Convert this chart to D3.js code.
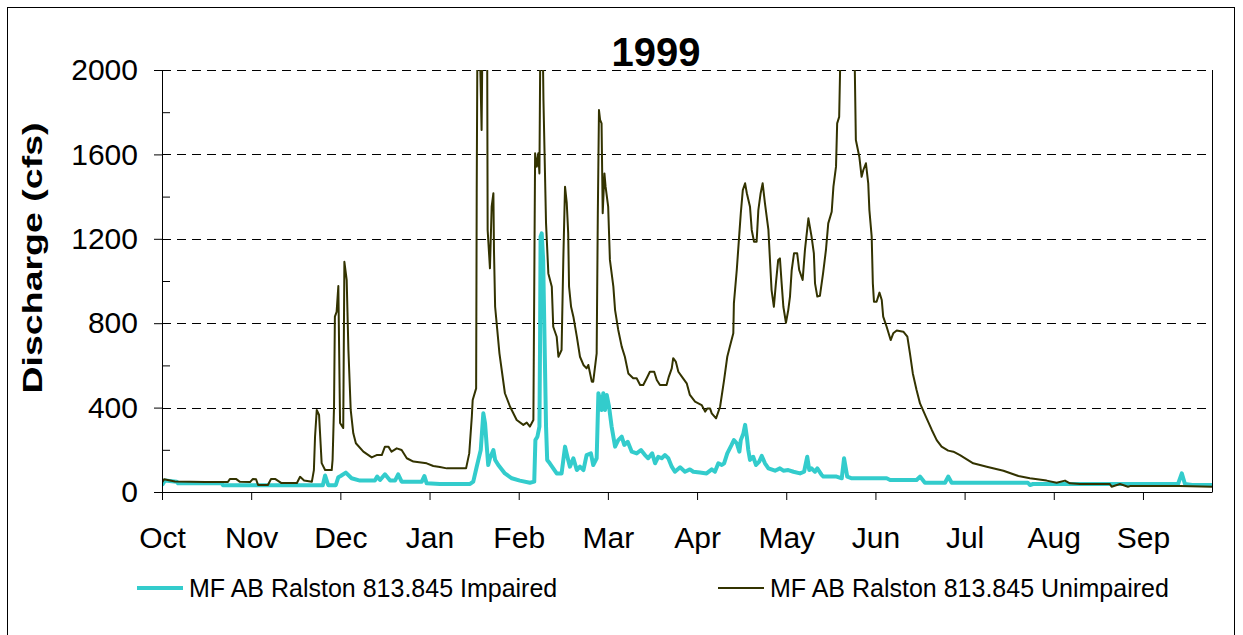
<!DOCTYPE html>
<html><head><meta charset="utf-8">
<script src="https://cdn.jsdelivr.net/npm/d3@7"></script>
<style>
body{margin:0;background:#fff}
svg{display:block}
text{font-family:"Liberation Sans",Arial,sans-serif;fill:#000}
</style>
</head><body>
<svg id="chart" width="1243" height="635"></svg>
<script>
// ---- data (day index from Oct 1, discharge in cfs) ----
const monthLabels = ["Oct","Nov","Dec","Jan","Feb","Mar","Apr","May","Jun","Jul","Aug","Sep"];
const monthTickDays = [0,31,62,93,124,155,186,217,248,279,310,341];
const yTickValues = [0,400,800,1200,1600,2000];
const yMinorTicks = [200,600,1000,1400,1800];
const seriesNames = ["MF AB Ralston 813.845 Impaired","MF AB Ralston 813.845 Unimpaired"];
const chartTitle = "1999";
const yLabel = "Discharge (cfs)";

const impaired = [
[0,33],[1,54],[5.1,49],[5.6,41],[20.8,41],[21.2,32],[55.9,32],[56.7,78],[57.8,32],[60.4,32],[61.3,70],[62.1,76],[63.9,92],[65.9,65],[68.8,54],[74,54],[74.8,73],[75.8,57],[77.5,84],[79.3,54],[81,54],[82.1,84],[83.3,49],[90.3,49],[91.2,76],[92,41],[96.6,38],[107.1,38],[108.2,49],[109.4,120],[110.8,199],[111.7,373],[112.3,325],[112.9,215],[113.4,128],[114,160],[115.2,199],[115.8,152],[116.9,128],[119.2,88],[121.6,65],[124.4,54],[127.9,44],[129.4,49],[129.8,246],[130.5,262],[131.2,310],[131.4,673],[131.6,1210],[132,1226],[132.5,1100],[133.1,626],[133.5,310],[133.9,152],[134.8,136],[136,112],[137.2,88],[138.9,88],[140.1,215],[141.2,152],[141.8,120],[143,160],[144.2,104],[145.3,120],[146.5,104],[147.6,175],[149.1,183],[149.9,128],[151.1,160],[151.7,468],[152.3,436],[152.8,389],[153.4,468],[154,389],[154.6,460],[155.4,404],[156.3,310],[157.5,215],[158.6,246],[159.8,262],[160.7,223],[161.9,238],[163.3,191],[165,183],[166.5,199],[167.9,175],[169,160],[170.4,183],[171.4,136],[172.5,167],[173.7,160],[174.8,175],[176,160],[177.2,120],[178.3,96],[180.1,117],[181.8,96],[183.5,107],[184.7,96],[187,92],[189.3,88],[191.1,107],[192.2,96],[193.4,136],[194.6,128],[195.4,136],[196.5,183],[198,223],[198.8,246],[199.8,231],[200.7,191],[201.2,246],[202.1,278],[202.7,318],[203.3,262],[203.8,199],[204.4,152],[205.5,167],[206.5,128],[207.6,144],[208.5,171],[209.6,136],[210.8,112],[213.1,101],[214.8,112],[216,101],[217.7,104],[219.5,96],[221.8,88],[223.2,96],[224.3,167],[225,104],[225.8,112],[227,96],[227.8,112],[229.3,81],[229.9,73],[234.5,73],[236.3,65],[237.1,160],[238.2,73],[239.8,65],[251.9,65],[253.1,57],[262.3,57],[263.5,73],[265.2,44],[272.2,44],[273.3,73],[274.5,44],[301,44],[301.7,33],[302.8,38],[353.2,38],[354.5,88],[355.6,38],[358.1,33],[365,33]
];

const unimpaired = [
[0,45],[0.7,60],[4.5,50],[15,47],[22.9,47],[23.6,62],[25.7,62],[27.1,48],[30.6,47],[31.6,62],[32.7,60],[33.4,33],[36.8,33],[37.9,62],[39.3,62],[41.4,43],[46.9,43],[48,72],[49.4,55],[52.1,49],[52.8,104],[53.2,262],[53.8,389],[54.6,365],[55.5,137],[56.7,104],[59,104],[59.3,152],[59.8,404],[60.1,831],[60.7,854],[61.3,976],[61.9,327],[63,303],[63.4,1091],[64.2,1005],[64.8,673],[65.6,389],[66.5,278],[67.4,231],[70,191],[72.9,164],[74.6,175],[76.4,175],[77.5,215],[78.7,215],[79.8,191],[81.6,207],[83.3,199],[85.1,160],[87.4,144],[92,136],[94.3,123],[96.6,118],[99,112],[105.7,112],[106.8,183],[107.7,357],[108,436],[109.2,491],[109.4,1417],[109.7,2300],[110.2,2300],[111.1,1716],[111.5,2300],[113,2300],[113.2,1242],[114,1060],[114.6,1352],[115.2,1416],[115.4,1147],[115.8,878],[117.3,657],[119.2,468],[121,404],[123.3,341],[125.6,318],[126.8,329],[127.9,310],[129.1,341],[129.7,1605],[130.3,1542],[130.8,1605],[131.2,1510],[131.6,2300],[132.2,2300],[132.6,1858],[133.5,1273],[134.3,1036],[135.5,973],[136,783],[137.2,736],[137.8,641],[138.9,673],[139.5,1100],[140.1,1447],[140.7,1370],[141.2,1227],[141.5,973],[142.2,878],[143,831],[144.2,736],[145.3,641],[146.5,602],[147.6,586],[148.2,602],[149.4,523],[149.9,523],[151.1,657],[151.5,1321],[151.9,1810],[152.3,1763],[152.8,1747],[153.2,1321],[153.8,1510],[154.2,1447],[155.1,1352],[155.7,1100],[156.9,973],[157.5,862],[158.6,768],[159.8,689],[160.9,641],[162.1,562],[163.8,539],[165,539],[166.2,507],[167.3,507],[168.5,539],[169.6,570],[171.1,570],[172,531],[173.1,507],[175.4,507],[176.2,547],[177.2,586],[177.7,634],[178.6,618],[179.5,570],[180.7,547],[182.4,515],[183.5,460],[185.3,428],[187.6,412],[188.8,381],[189.6,396],[190.5,396],[191.1,373],[192.6,349],[194,404],[195.4,531],[196.5,641],[197.4,689],[198.6,752],[198.8,894],[199.8,1052],[200.7,1226],[201.2,1321],[201.9,1431],[202.7,1463],[203.3,1416],[204.4,1352],[205,1242],[205.8,1186],[206.7,1186],[207.3,1336],[208.1,1416],[208.8,1463],[209.6,1368],[210.8,1242],[211.4,1084],[211.9,957],[212.7,878],[213.4,989],[214.2,1100],[214.8,1107],[215.4,989],[216,878],[216.9,802],[217.7,862],[218.3,926],[218.9,1052],[219.7,1131],[220.8,1131],[221.5,1052],[222.7,1005],[223.5,1147],[224.7,1297],[225.8,1210],[226.6,1131],[227,989],[227.8,926],[228.7,930],[229.8,1036],[230.8,1147],[231.6,1273],[232.8,1328],[233.4,1447],[234.3,1542],[234.7,1747],[235.4,1778],[235.7,1986],[236,2300],[240.5,2300],[241.2,1668],[242.4,1589],[243.2,1494],[243.8,1526],[244.7,1558],[245.5,1463],[245.9,1336],[246.7,1210],[247.1,989],[247.5,902],[248.4,902],[249.4,945],[250.2,910],[250.7,831],[251.9,783],[253.3,720],[254.2,752],[255.4,765],[257.7,760],[259.1,736],[260,657],[261,562],[262.3,483],[263.5,420],[265.8,349],[267.6,294],[269.3,246],[271,215],[273.3,196],[275.1,191],[277.4,175],[282,136],[286.7,120],[292.5,101],[297.7,76],[301.7,65],[307.5,54],[311,44],[313.9,54],[315.6,41],[319.1,38],[329.5,38],[330.1,25],[333,38],[335.8,25],[336.5,28],[353.9,28],[365,25]
];

// ---- drawing ----
const svg = d3.select("#chart");
const W = 1243, H = 635;
const plot = {left:162, right:1212, top:70, bottom:492};
const x = d3.scaleLinear().domain([0,365]).range([plot.left, plot.right]);
const y = d3.scaleLinear().domain([0,2000]).range([plot.bottom, plot.top]);
const colImpaired = "#33CCCC", colUnimpaired = "#333300";

svg.append("rect").attr("x",0).attr("y",0).attr("width",W).attr("height",H).attr("fill","#fff");
// outer chart border
svg.append("rect").attr("x",7.5).attr("y",7.5).attr("width",1227).attr("height",640)
  .attr("fill","none").attr("stroke","#000").attr("stroke-width",1);

// gridlines
svg.append("g").selectAll("line").data(yTickValues.filter(v=>v>0)).join("line")
  .attr("x1",plot.left).attr("x2",plot.right)
  .attr("y1",d=>Math.round(y(d))+0.5).attr("y2",d=>Math.round(y(d))+0.5)
  .attr("stroke","#000").attr("stroke-width",1).attr("stroke-dasharray","9,6");

// right border of plot area
svg.append("line").attr("x1",plot.right+0.5).attr("x2",plot.right+0.5)
  .attr("y1",plot.top).attr("y2",plot.bottom).attr("stroke","#000").attr("stroke-width",1);

// clip
svg.append("clipPath").attr("id","clip").append("rect")
  .attr("x",plot.left).attr("y",plot.top).attr("width",plot.right-plot.left+1).attr("height",plot.bottom-plot.top+3);

const line = d3.line().x(d=>x(d[0])).y(d=>y(d[1]));
const gSeries = svg.append("g").attr("clip-path","url(#clip)");
gSeries.append("path").datum(impaired).attr("d",line)
  .attr("fill","none").attr("stroke",colImpaired).attr("stroke-width",4).attr("stroke-linejoin","round");
gSeries.append("path").datum(unimpaired).attr("d",line)
  .attr("fill","none").attr("stroke",colUnimpaired).attr("stroke-width",2).attr("stroke-linejoin","round");

// axes
const xAxis = d3.axisBottom(x).tickValues(monthTickDays).tickSize(8).tickSizeOuter(0).tickPadding(27)
  .tickFormat((d,i)=>monthLabels[i]);
const gx = svg.append("g").attr("transform",`translate(0,${plot.bottom})`).call(xAxis);
gx.selectAll("text").style("font-size","30px");
gx.selectAll("path,line").attr("stroke","#000");

const yAxis = d3.axisLeft(y).tickValues(yTickValues).tickSize(8).tickSizeOuter(0).tickPadding(16)
  .tickFormat(d3.format("d"));
const gy = svg.append("g").attr("transform",`translate(${plot.left},0)`).call(yAxis);
gy.selectAll("text").style("font-size","30px");
gy.selectAll("path,line").attr("stroke","#000");

const yMinor = d3.axisRight(y).tickValues(yMinorTicks).tickSize(8).tickFormat("");
const gym = svg.append("g").attr("transform",`translate(${plot.left},0)`).call(yMinor);
gym.select(".domain").remove();
gym.selectAll("line").attr("stroke","#000");

// title
svg.append("text").attr("x",656).attr("y",66).attr("text-anchor","middle")
  .style("font-size","40px").style("font-weight","bold").text(chartTitle);

// y label
svg.append("text").attr("transform","translate(42,258) rotate(-90)").attr("text-anchor","middle")
  .style("font-size","28px").style("font-weight","bold")
  .attr("textLength",271).attr("lengthAdjust","spacingAndGlyphs").text(yLabel);

// legend
const legend = [
  {name:seriesNames[0], color:colImpaired, w:4, x0:137},
  {name:seriesNames[1], color:colUnimpaired, w:2, x0:718}
];
const gl = svg.append("g");
legend.forEach(l=>{
  gl.append("line").attr("x1",l.x0).attr("x2",l.x0+46).attr("y1",588).attr("y2",588)
    .attr("stroke",l.color).attr("stroke-width",l.w);
  gl.append("text").attr("x",l.x0+52).attr("y",597).style("font-size","25px").text(l.name);
});
</script>
</body></html>
